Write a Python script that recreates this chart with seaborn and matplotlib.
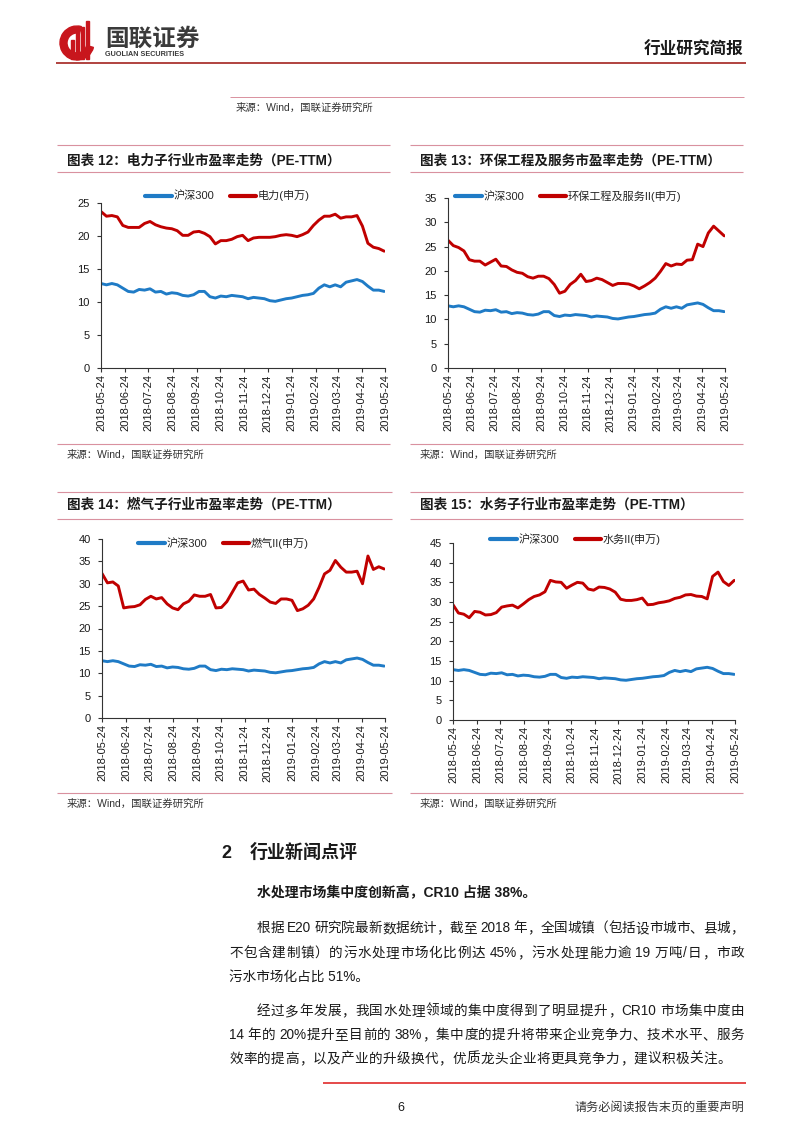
import re
import numpy as np
import pandas as pd
import matplotlib
matplotlib.use('Agg')
import matplotlib.pyplot as plt
import matplotlib.patches as mpatches
from matplotlib.lines import Line2D
import seaborn as sns

W, H = 802, 1133

# weekly PE-TTM readings, 2018-05-24 .. 2019-05-23
start_date = '2018-05-24'
tick_labels = ['2018-05-24', '2018-06-24', '2018-07-24', '2018-08-24', '2018-09-24',
               '2018-10-24', '2018-11-24', '2018-12-24', '2019-01-24', '2019-02-24',
               '2019-03-24', '2019-04-24', '2019-05-24']

hs300 = [12.8, 12.6, 12.8, 12.6, 12.1, 11.6, 11.5, 11.9, 11.8, 12.0,
         11.5, 11.6, 11.2, 11.4, 11.3, 11.0, 10.9, 11.1, 11.6, 11.6,
         10.8, 10.6, 10.9, 10.8, 11.0, 10.9, 10.8, 10.5, 10.7, 10.6,
         10.5, 10.2, 10.1, 10.3, 10.5, 10.6, 10.8, 11.0, 11.1, 11.3,
         12.1, 12.6, 12.3, 12.6, 12.3, 13.0, 13.2, 13.4, 13.1, 12.4,
         11.8, 11.8, 11.6]
power = [23.7, 23.0, 23.1, 22.9, 21.6, 21.3, 21.3, 21.3, 21.9, 22.2,
         21.7, 21.4, 21.2, 21.1, 20.8, 20.1, 20.1, 20.6, 20.7, 20.4,
         19.9, 18.8, 19.3, 19.3, 19.5, 19.9, 20.1, 19.3, 19.7, 19.8,
         19.8, 19.8, 19.9, 20.1, 20.2, 20.1, 19.9, 20.2, 20.6, 21.6,
         22.4, 23.0, 23.0, 23.3, 22.7, 22.9, 22.9, 23.1, 21.5, 18.9,
         18.3, 18.1, 17.7]
env = [26.3, 25.2, 24.8, 24.1, 22.3, 22.0, 22.0, 21.2, 21.8, 22.4,
       21.0, 20.9, 20.2, 19.7, 19.5, 18.8, 18.5, 18.9, 18.9, 18.4,
       17.2, 15.4, 15.8, 17.2, 18.0, 19.3, 17.8, 18.0, 18.5, 18.2,
       17.6, 17.0, 17.4, 17.4, 17.3, 16.9, 16.3, 16.9, 17.6, 18.5,
       19.9, 21.5, 21.0, 21.4, 21.3, 22.2, 22.3, 25.5, 25.0, 27.8,
       29.2, 28.2, 27.2]
gas = [32.3, 30.2, 30.4, 29.5, 24.6, 24.8, 24.9, 25.3, 26.5, 27.2,
       26.6, 26.9, 25.5, 24.6, 24.2, 25.5, 26.1, 27.5, 27.2, 27.2,
       27.6, 24.6, 24.7, 26.0, 28.1, 30.2, 30.6, 28.6, 28.8, 27.6,
       26.8, 25.9, 25.6, 26.6, 26.6, 26.3, 24.0, 24.4, 25.2, 26.6,
       29.2, 32.2, 33.0, 35.2, 33.7, 32.6, 32.6, 32.8, 30.0, 36.2,
       33.2, 33.8, 33.3]
water = [29.3, 27.2, 26.9, 26.0, 27.6, 27.4, 26.7, 26.8, 27.3, 28.7,
         29.0, 29.2, 28.5, 29.5, 30.6, 31.4, 31.8, 32.6, 35.5, 35.1,
         35.0, 33.5, 34.3, 35.0, 34.8, 33.3, 33.0, 33.8, 33.7, 33.3,
         32.5, 30.7, 30.4, 30.4, 30.6, 31.0, 29.3, 29.4, 29.8, 30.0,
         30.3, 30.9, 31.2, 31.8, 31.9, 31.5, 31.4, 30.8, 36.5, 37.6,
         35.2, 34.2, 35.5]

BLUE = '#1F7BC6'
RED = '#C00000'
PINK = '#D9919F'
TEXT = '#1A1A1A'
SOURCE = '来源：Wind，国联证券研究所'

sns.set_theme(style='ticks')
plt.rcParams['font.family'] = ['Liberation Sans', 'Noto Sans CJK SC']
plt.rcParams['axes.unicode_minus'] = False

fig = plt.figure(figsize=(W / 100, H / 100), dpi=100)
page = fig.add_axes([0, 0, 1, 1])
page.set_xlim(0, W)
page.set_ylim(H, 0)
page.axis('off')
renderer = fig.canvas.get_renderer()


def rect(x0, y0, x1, y1):
    return [x0 / W, 1 - y1 / H, (x1 - x0) / W, (y1 - y0) / H]


def hline(x0, x1, y, color=PINK, lw=0.8):
    page.plot([x0, x1], [y, y], color=color, lw=lw, solid_capstyle='butt')


def put_line(text, x0, y, size, weight='normal', x1=None, color=TEXT):
    if x1 is None:
        page.text(x0, y, text, fontsize=size, weight=weight, color=color, ha='left', va='center')
        return
    # spread the characters so the line fills x0..x1 (justified text)
    tokens = re.findall(r'[A-Za-z0-9%/.]+| |.', text)
    arts, widths = [], []
    for t in tokens:
        if t == ' ':
            arts.append(None)
            widths.append(0.22 * size * 100 / 72)
            continue
        a = page.text(0, y, t, fontsize=size, weight=weight, color=color, ha='left', va='center')
        arts.append(a)
        widths.append(a.get_window_extent(renderer).width)
    gap = (x1 - x0 - sum(widths)) / (len(tokens) - 1)
    x = x0
    for a, w in zip(arts, widths):
        if a is not None:
            a.set_x(x)
        x += w + gap


# ---- header ----
page.add_patch(mpatches.Wedge((77, 43), 17, 15, 285, width=7, color='#C8161D'))
for bx, top in [(71, 40), (76, 33), (81, 27), (86, 21)]:
    page.add_patch(mpatches.Rectangle((bx, top), 3.2, 59 - top, color='#C8161D'))
page.text(105, 39, '国联证券', fontsize=17, weight='bold', color='#3A3A3A', ha='left', va='center')
page.text(105, 54, 'GUOLIAN SECURITIES', fontsize=5.2, weight='bold', color='#3A3A3A', ha='left', va='center')
page.text(743, 50, '行业研究简报', fontsize=12, weight='bold', color=TEXT, ha='right', va='center')
hline(56, 746, 63, color='#B0423F', lw=1.4)
hline(230, 744, 97, lw=0.7)
page.text(236, 108, SOURCE, fontsize=7.5, color='#333333', ha='left', va='center')

# ---- four charts ----
charts = [
    dict(title='图表 12：电力子行业市盈率走势（PE-TTM）', label='电力(申万)', values=power, ymax=25,
         box=(101, 203, 385, 368), span=(57, 390), text_x=67, top=145, title_y=161, under=172,
         legend=(145, 196), src_line=444, src_y=455),
    dict(title='图表 13：环保工程及服务市盈率走势（PE-TTM）', label='环保工程及服务II(申万)', values=env, ymax=35,
         box=(448, 198, 725, 368), span=(410, 743), text_x=420, top=145, title_y=161, under=172,
         legend=(455, 196), src_line=444, src_y=455),
    dict(title='图表 14：燃气子行业市盈率走势（PE-TTM）', label='燃气II(申万)', values=gas, ymax=40,
         box=(102, 539, 385, 718), span=(57, 392), text_x=67, top=492, title_y=505, under=519,
         legend=(138, 543), src_line=793, src_y=804),
    dict(title='图表 15：水务子行业市盈率走势（PE-TTM）', label='水务II(申万)', values=water, ymax=45,
         box=(453, 543, 735, 720), span=(410, 743), text_x=420, top=492, title_y=505, under=519,
         legend=(490, 539), src_line=793, src_y=804),
]

dates = pd.date_range(start_date, periods=len(hs300), freq='7D')
ticks = pd.to_datetime(tick_labels)

for c in charts:
    x0, x1 = c['span']
    hline(x0, x1, c['top'])
    hline(x0, x1, c['under'])
    page.text(c['text_x'], c['title_y'], c['title'], fontsize=9.8, weight='bold', color=TEXT,
              ha='left', va='center')
    hline(x0, x1, c['src_line'])
    page.text(c['text_x'], c['src_y'], SOURCE, fontsize=7.5, color='#333333', ha='left', va='center')

    ax = fig.add_axes(rect(*c['box']))
    ax.set_facecolor('none')
    df = pd.DataFrame({'date': dates, '沪深300': hs300, c['label']: c['values']})
    long = df.melt('date', var_name='series', value_name='pe')
    sns.lineplot(data=long, x='date', y='pe', hue='series', hue_order=['沪深300', c['label']],
                 palette=[BLUE, RED], linewidth=2.1, legend=False, ax=ax)

    ax.set_xlim(ticks[0], ticks[-1])
    ax.set_ylim(0, c['ymax'])
    ax.set_yticks(range(0, c['ymax'] + 1, 5))
    ax.set_xticks(ticks)
    ax.set_xticklabels(tick_labels, rotation=90)
    ax.set_xlabel('')
    ax.set_ylabel('')
    for s in ['top', 'right']:
        ax.spines[s].set_visible(False)
    for s in ['left', 'bottom']:
        ax.spines[s].set_color('#333333')
        ax.spines[s].set_linewidth(0.8)
    ax.tick_params(axis='both', direction='out', length=3, width=0.8, color='#333333',
                   labelsize=8, labelcolor=TEXT)
    ax.tick_params(axis='x', pad=1.5)
    ax.tick_params(axis='y', pad=5)

    handles = [Line2D([], [], color=BLUE, lw=3), Line2D([], [], color=RED, lw=3)]
    lx, ly = c['legend']
    ax.legend(handles, ['沪深300', c['label']], loc='center left',
              bbox_to_anchor=(lx / W, 1 - ly / H), bbox_transform=fig.transFigure,
              ncol=2, frameon=False, fontsize=8, handlelength=2.4, handletextpad=0.15,
              columnspacing=1.4, borderpad=0, borderaxespad=0)

# ---- text section ----
page.text(221, 853, '2', fontsize=13, weight='bold', color=TEXT, ha='left', va='center')
page.text(250, 853, '行业新闻点评', fontsize=13, weight='bold', color=TEXT, ha='left', va='center')
put_line('水处理市场集中度创新高，CR10 占据 38%。', 257, 893, 10, weight='bold')

put_line('根据 E20 研究院最新数据统计，截至 2018 年，全国城镇（包括设市城市、县城，', 257, 928, 9.8, x1=744)
put_line('不包含建制镇）的污水处理市场化比例达 45%，污水处理能力逾 19 万吨/日，市政', 229, 953, 9.8, x1=744)
put_line('污水市场化占比 51%。', 229, 977, 9.8)
put_line('经过多年发展，我国水处理领域的集中度得到了明显提升，CR10 市场集中度由', 257, 1011, 9.8, x1=744)
put_line('14 年的 20%提升至目前的 38%，集中度的提升将带来企业竞争力、技术水平、服务', 229, 1035, 9.8, x1=744)
put_line('效率的提高，以及产业的升级换代，优质龙头企业将更具竞争力，建议积极关注。', 229, 1059, 9.8, x1=731)

hline(323, 746, 1083, color='#E02A2A', lw=1.2)
page.text(401, 1108, '6', fontsize=9, color=TEXT, ha='center', va='center')
page.text(744, 1108, '请务必阅读报告末页的重要声明', fontsize=8.7, color='#333333', ha='right', va='center')

fig.savefig('out.png', dpi=100)
